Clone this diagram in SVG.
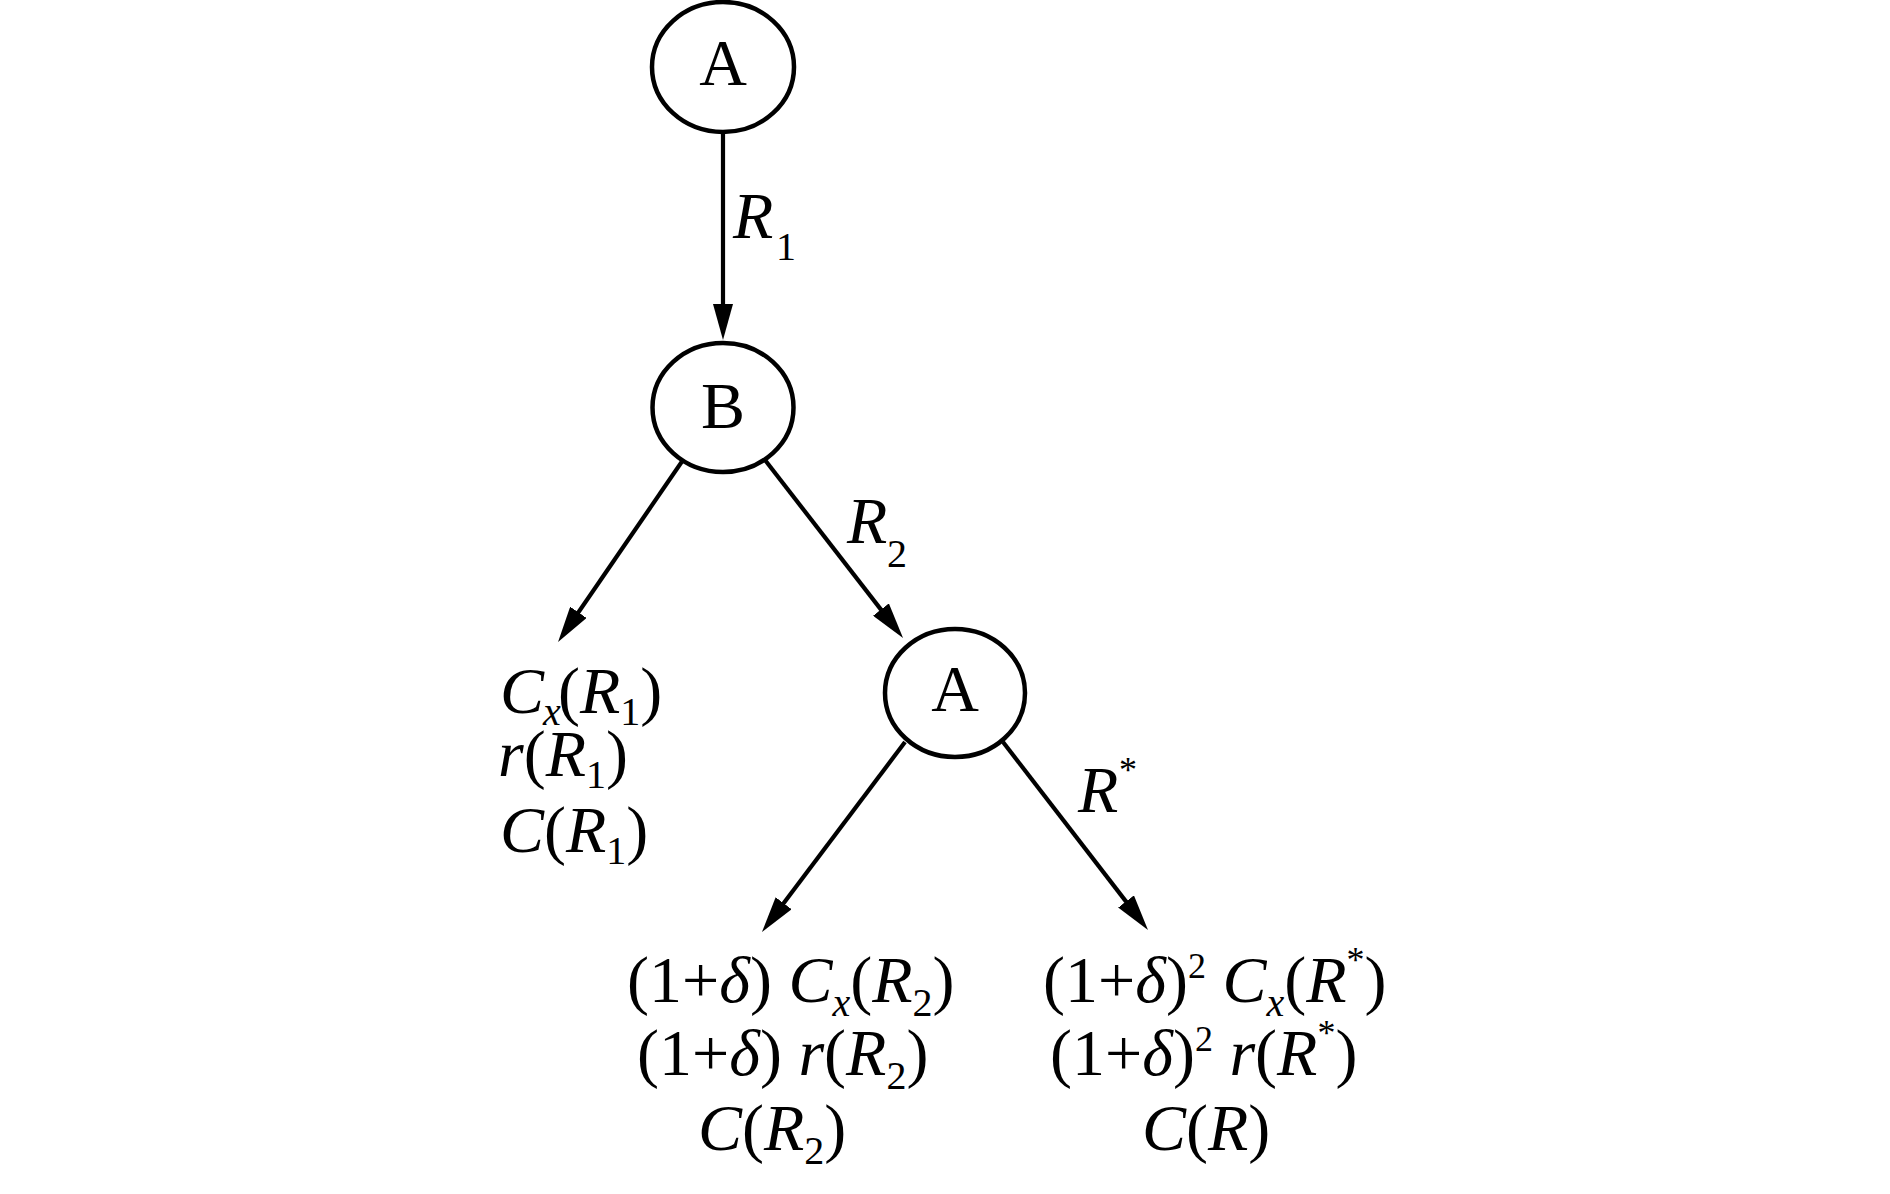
<svg xmlns="http://www.w3.org/2000/svg" width="1890" height="1194" viewBox="0 0 1890 1194">
<style>
.node{fill:#fff;stroke:#000;stroke-width:4.5}
.lbl{font-family:"Liberation Serif","Times New Roman",serif;font-size:66px;fill:#000}
.t{font-family:"Liberation Serif","Times New Roman",serif;font-size:66px;fill:#000}
.i{font-style:italic}
.s{font-size:40px}
.sup{font-size:36px}
.edge{stroke:#000;stroke-width:4.2;fill:none}
</style>
<defs>
<marker id="arr" viewBox="0 0 36 20" refX="26" refY="10" markerWidth="36" markerHeight="20" orient="auto" markerUnits="userSpaceOnUse">
<path d="M0,0 L36,10 L0,20 Z" fill="#000"/>
</marker>
</defs>
<rect width="1890" height="1194" fill="#fff"/>
<g id="connectors">
<line class="edge" x1="723" y1="133" x2="723" y2="330" marker-end="url(#arr)"/>
<line class="edge" x1="683" y1="460" x2="563.7" y2="633.8" marker-end="url(#arr)"/>
<line class="edge" x1="765" y1="460" x2="896.9" y2="630.1" marker-end="url(#arr)"/>
<line class="edge" x1="905" y1="742" x2="768" y2="924" marker-end="url(#arr)"/>
<line class="edge" x1="1003" y1="742" x2="1141.9" y2="922.1" marker-end="url(#arr)"/>
<text class="t" x="733" y="238"><tspan class="i">R</tspan><tspan class="s" x="776" dy="22">1</tspan></text>
<text class="t" x="847" y="543"><tspan class="i">R</tspan><tspan class="s" x="887" dy="24">2</tspan></text>
<text class="t" x="1078" y="812"><tspan class="i">R</tspan><tspan class="sup" x="1119" dy="-30">*</tspan></text>
</g>
<g id="node-A-top">
<ellipse class="node" cx="723" cy="67" rx="71" ry="65"/>
<text class="lbl" x="723" y="85" text-anchor="middle">A</text>
</g>
<g id="node-B">
<ellipse class="node" cx="723" cy="407.5" rx="70.5" ry="64.5"/>
<text class="lbl" x="723" y="428" text-anchor="middle">B</text>
</g>
<g id="node-A-mid">
<ellipse class="node" cx="955" cy="693" rx="70" ry="64"/>
<text class="lbl" x="955" y="711" text-anchor="middle">A</text>
</g>
<g id="leaf-left">
<text class="t" x="500" y="713"><tspan class="i">C</tspan><tspan class="s i" x="543" dy="12">x</tspan><tspan x="558" dy="-12">(</tspan><tspan class="i">R</tspan><tspan class="s" dy="12">1</tspan><tspan dy="-12">)</tspan></text>
<text class="t" x="498" y="776"><tspan class="i">r</tspan><tspan>(</tspan><tspan class="i">R</tspan><tspan class="s" dy="12">1</tspan><tspan dy="-12">)</tspan></text>
<text class="t" x="500" y="852"><tspan class="i">C</tspan><tspan>(</tspan><tspan class="i">R</tspan><tspan class="s" dy="12">1</tspan><tspan dy="-12">)</tspan></text>
</g>
<g id="leaf-mid">
<text class="t" x="627" y="1002">(1+<tspan class="i">δ</tspan>) <tspan class="i">C</tspan><tspan class="s i" dy="14">x</tspan><tspan dy="-14">(</tspan><tspan class="i">R</tspan><tspan class="s" dy="14">2</tspan><tspan dy="-14">)</tspan></text>
<text class="t" x="637" y="1075">(1+<tspan class="i">δ</tspan>) <tspan class="i">r</tspan><tspan>(</tspan><tspan class="i">R</tspan><tspan class="s" dy="14">2</tspan><tspan dy="-14">)</tspan></text>
<text class="t" x="698" y="1150"><tspan class="i">C</tspan><tspan>(</tspan><tspan class="i">R</tspan><tspan class="s" dy="14">2</tspan><tspan dy="-14">)</tspan></text>
</g>
<g id="leaf-right">
<text class="t" x="1043" y="1002">(1+<tspan class="i">δ</tspan>)<tspan class="sup" dy="-24">2</tspan><tspan dy="24"> </tspan><tspan class="i">C</tspan><tspan class="s i" dy="14">x</tspan><tspan dy="-14">(</tspan><tspan class="i">R</tspan><tspan class="sup" dy="-30">*</tspan><tspan dy="30">)</tspan></text>
<text class="t" x="1050" y="1075">(1+<tspan class="i">δ</tspan>)<tspan class="sup" dy="-24">2</tspan><tspan dy="24"> </tspan><tspan class="i">r</tspan><tspan>(</tspan><tspan class="i">R</tspan><tspan class="sup" dy="-30">*</tspan><tspan dy="30">)</tspan></text>
<text class="t" x="1142" y="1150"><tspan class="i">C</tspan><tspan>(</tspan><tspan class="i">R</tspan><tspan>)</tspan></text>
</g>
</svg>
